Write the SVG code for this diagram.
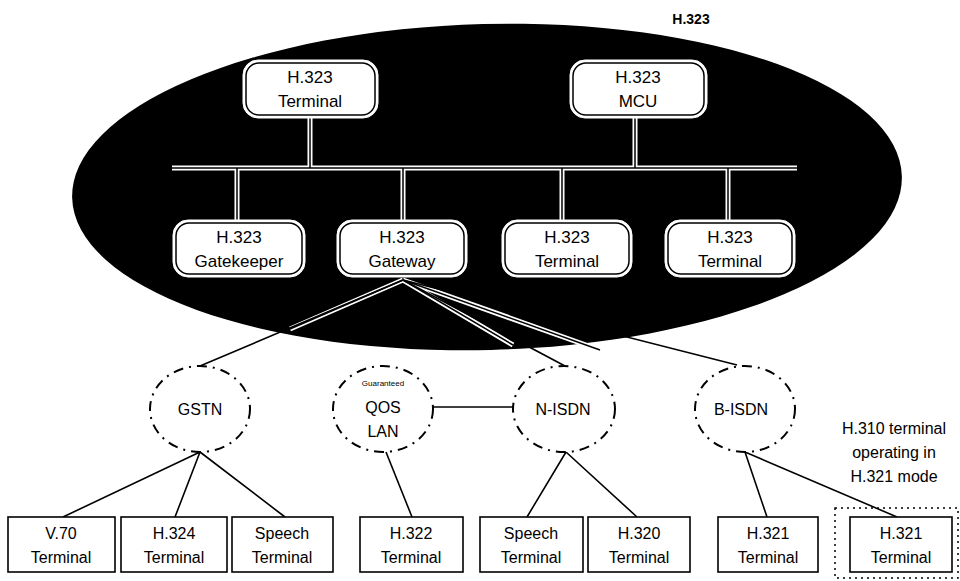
<svg xmlns="http://www.w3.org/2000/svg" width="960" height="581" viewBox="0 0 960 581">
<style>
text{font-family:"Liberation Sans",Arial,sans-serif;fill:#000;text-anchor:middle}
.t1{font-size:17px}
.t2{font-size:16px}
.bx{fill:#fff;stroke:#fff;stroke-width:1}
.bxi{fill:none;stroke:#000;stroke-width:1.5}
.cw{stroke:#fff;stroke-width:5;fill:none}
.ck{stroke:#000;stroke-width:1.5;fill:none}
.ln{stroke:#000;stroke-width:1.6;fill:none}
.net{fill:#fff;stroke:#000;stroke-width:2;stroke-dasharray:10 6 2 6}
.sq{fill:#fff;stroke:#000;stroke-width:1.6}
</style>
<rect width="960" height="581" fill="#fff"/>
<g id="h323-zone">
<ellipse cx="487" cy="187" rx="415" ry="163" transform="rotate(-1.5 487 187)" fill="#000"/>
<text x="691" y="24" style="font-size:14px;font-weight:bold">H.323</text>
</g>
<g id="connectors">
<path class="cw" d="M310 118V168M635 118V168M172 168H797M237 168V220M403 168V220M562 168V220M728 168V220"/>
<path class="ck" d="M310 118V168M635 118V168M172 168H797M237 168V220M403 168V220M562 168V220M728 168V220"/>
<path class="cw" d="M403 280L290 329M403 280L513 345M403 280L600 350"/>
<path class="ln" d="M403 280L200 366M403 280L565 366M403 280L737 365"/>
<path class="ck" d="M403 280L290 329M403 280L513 345M403 280L600 350"/>
<path class="ln" d="M433 407H513"/>
<path class="ln" d="M200 452L63 517M200 452L175 517M200 452L285 517"/>
<path class="ln" d="M386 452L412 517"/>
<path class="ln" d="M566 452L527 517M566 452L637 517"/>
<path class="ln" d="M745 452L767 517M745 452L897 517"/>
</g>
<g id="terminal-top">
<rect class="bx" x="243" y="60" width="135" height="58" rx="15"/>
<rect class="bxi" x="246" y="63" width="129" height="52" rx="13"/>
<text class="t1" x="310" y="83">H.323</text><text class="t1" x="310" y="107">Terminal</text>
</g>
<g id="mcu">
<rect class="bx" x="570" y="60" width="137" height="58" rx="15"/>
<rect class="bxi" x="573" y="63" width="131" height="52" rx="13"/>
<text class="t1" x="638" y="83">H.323</text><text class="t1" x="638" y="107">MCU</text>
</g>
<g id="gatekeeper">
<rect class="bx" x="173" y="220" width="132" height="57" rx="15"/>
<rect class="bxi" x="176" y="223" width="126" height="51" rx="13"/>
<text class="t1" x="239" y="243">H.323</text><text class="t1" x="239" y="267">Gatekeeper</text>
</g>
<g id="gateway">
<rect class="bx" x="337" y="220" width="130" height="57" rx="15"/>
<rect class="bxi" x="340" y="223" width="124" height="51" rx="13"/>
<text class="t1" x="402" y="243">H.323</text><text class="t1" x="402" y="267">Gateway</text>
</g>
<g id="terminal-3">
<rect class="bx" x="502" y="220" width="130" height="57" rx="15"/>
<rect class="bxi" x="505" y="223" width="124" height="51" rx="13"/>
<text class="t1" x="567" y="243">H.323</text><text class="t1" x="567" y="267">Terminal</text>
</g>
<g id="terminal-4">
<rect class="bx" x="665" y="220" width="130" height="57" rx="15"/>
<rect class="bxi" x="668" y="223" width="124" height="51" rx="13"/>
<text class="t1" x="730" y="243">H.323</text><text class="t1" x="730" y="267">Terminal</text>
</g>
<g id="gstn">
<ellipse class="net" cx="200" cy="409" rx="50" ry="43"/>
<text class="t2" x="200" y="415">GSTN</text>
</g>
<g id="qos-lan">
<ellipse class="net" cx="383" cy="409" rx="50" ry="43"/>
<text x="383" y="386" style="font-size:8px">Guaranteed</text>
<text class="t2" x="383" y="413">QOS</text><text class="t2" x="383" y="437">LAN</text>
</g>
<g id="n-isdn">
<ellipse class="net" cx="564" cy="409" rx="51" ry="43"/>
<text class="t2" x="563" y="415">N-ISDN</text>
</g>
<g id="b-isdn">
<ellipse class="net" cx="745" cy="409" rx="50" ry="43"/>
<text class="t2" x="741" y="415">B-ISDN</text>
</g>
<g id="h310-note">
<text class="t2" x="894" y="434">H.310 terminal</text>
<text class="t2" x="894" y="458">operating in</text>
<text class="t2" x="894" y="482">H.321 mode</text>
<rect x="835" y="508" width="123" height="70" fill="none" stroke="#000" stroke-width="1.5" stroke-dasharray="2 4"/>
</g>
<g id="v70"><rect class="sq" x="8" y="517" width="107" height="55"/><text class="t2" x="61" y="539">V.70</text><text class="t2" x="61" y="563">Terminal</text></g>
<g id="h324"><rect class="sq" x="121" y="517" width="106" height="55"/><text class="t2" x="174" y="539">H.324</text><text class="t2" x="174" y="563">Terminal</text></g>
<g id="speech-1"><rect class="sq" x="232" y="517" width="101" height="55"/><text class="t2" x="282" y="539">Speech</text><text class="t2" x="282" y="563">Terminal</text></g>
<g id="h322"><rect class="sq" x="360" y="517" width="103" height="55"/><text class="t2" x="411" y="539">H.322</text><text class="t2" x="411" y="563">Terminal</text></g>
<g id="speech-2"><rect class="sq" x="480" y="517" width="103" height="55"/><text class="t2" x="531" y="539">Speech</text><text class="t2" x="531" y="563">Terminal</text></g>
<g id="h320"><rect class="sq" x="588" y="517" width="102" height="55"/><text class="t2" x="639" y="539">H.320</text><text class="t2" x="639" y="563">Terminal</text></g>
<g id="h321-a"><rect class="sq" x="718" y="517" width="100" height="55"/><text class="t2" x="768" y="539">H.321</text><text class="t2" x="768" y="563">Terminal</text></g>
<g id="h321-b"><rect class="sq" x="850" y="517" width="102" height="55"/><text class="t2" x="901" y="539">H.321</text><text class="t2" x="901" y="563">Terminal</text></g>
</svg>
